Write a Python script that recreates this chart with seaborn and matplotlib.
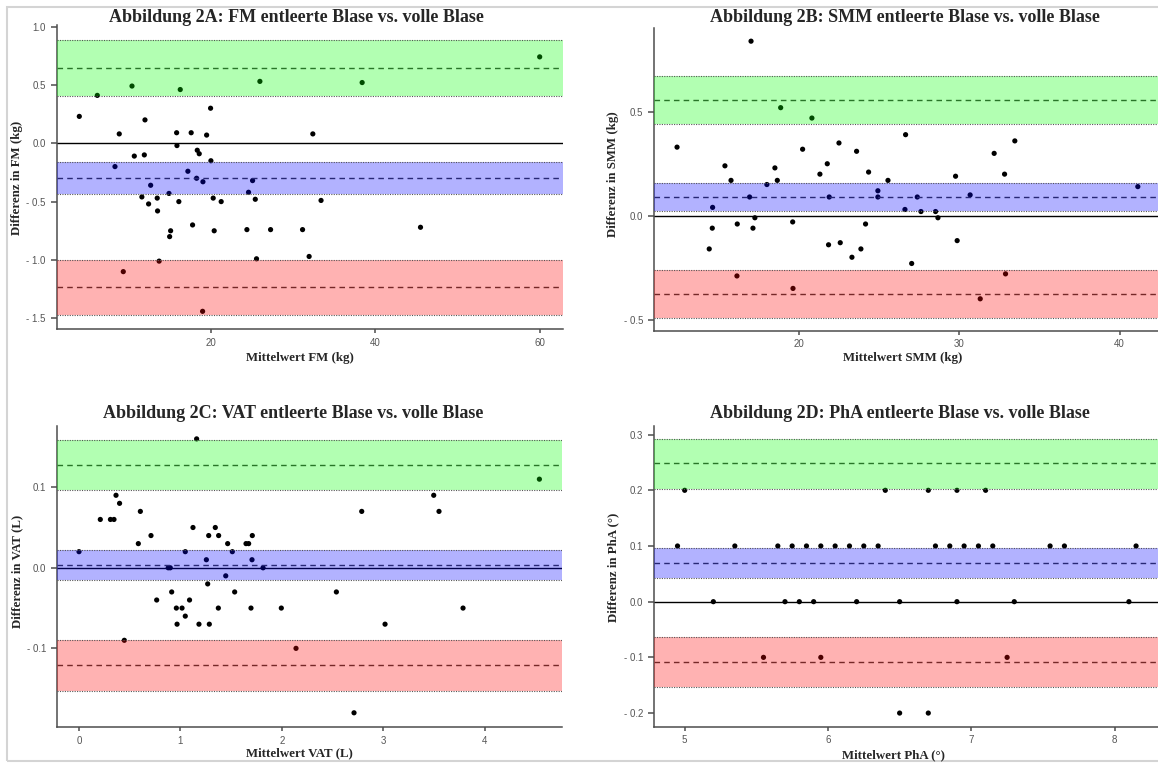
import numpy as np
import pandas as pd
import matplotlib
matplotlib.use("Agg")
import matplotlib.pyplot as plt
import seaborn as sns
from matplotlib.ticker import FuncFormatter, FixedLocator
from matplotlib.patches import Rectangle

# ---------------- Fettmasse (FM) ----------------
fm_mean = [3.99, 6.18, 10.4, 16.27, 25.96, 8.85, 11.98, 19.96, 15.83, 17.6,
           19.48, 15.87, 10.68, 11.9, 18.34, 18.58, 20.0, 8.33, 17.2, 18.26,
           19.03, 12.67, 25.07, 24.58, 14.9, 11.6, 13.47, 12.42, 16.1, 20.28,
           21.25, 25.4, 13.51, 17.77, 15.1, 14.98, 20.4, 24.38, 27.26, 25.55,
           13.7, 9.34, 18.99, 60.0, 38.4, 32.4, 33.4, 31.15, 45.5, 31.95]
fm_diff = [0.23, 0.41, 0.49, 0.46, 0.53, 0.08, 0.20, 0.30, 0.09, 0.09,
           0.07, -0.02, -0.11, -0.10, -0.06, -0.09, -0.15, -0.20, -0.24, -0.30,
           -0.33, -0.36, -0.32, -0.42, -0.43, -0.46, -0.47, -0.52, -0.50, -0.47,
           -0.50, -0.48, -0.58, -0.70, -0.75, -0.80, -0.75, -0.74, -0.74, -0.99,
           -1.01, -1.10, -1.44, 0.74, 0.52, 0.08, -0.49, -0.74, -0.72, -0.97]
# (untere KI-Grenze, Schätzer, obere KI-Grenze)
fm_bias = [-0.437, -0.297, -0.158]
fm_loa_upper = [0.408, 0.648, 0.885]
fm_loa_lower = [-1.471, -1.234, -1.0]

# ---------------- Skelettmuskelmasse (SMM) ----------------
smm_mean = [16.99, 18.84, 20.79, 12.37, 20.21, 22.48, 23.58, 15.36, 18.48, 21.75,
            15.74, 18.63, 21.29, 24.33, 17.98, 16.9, 21.87, 14.59, 24.91, 24.91,
            16.13, 17.23, 17.11, 14.57, 19.59, 24.14, 14.38, 21.83, 22.56, 23.85,
            23.29, 16.11, 19.61, 26.64, 32.17, 33.46, 32.82, 29.76, 25.54, 27.37,
            30.67, 41.14, 26.6, 27.6, 28.51, 28.66, 29.86, 27.02, 32.88, 31.3]
smm_diff = [0.84, 0.52, 0.47, 0.33, 0.32, 0.35, 0.31, 0.24, 0.23, 0.25,
            0.17, 0.17, 0.20, 0.21, 0.15, 0.09, 0.09, 0.04, 0.12, 0.09,
            -0.04, -0.01, -0.06, -0.06, -0.03, -0.04, -0.16, -0.14, -0.13, -0.16,
            -0.20, -0.29, -0.35, 0.39, 0.30, 0.36, 0.20, 0.19, 0.17, 0.09,
            0.10, 0.14, 0.03, 0.02, 0.02, -0.01, -0.12, -0.23, -0.28, -0.40]
smm_bias = [0.021, 0.090, 0.157]
smm_loa_upper = [0.44, 0.559, 0.673]
smm_loa_lower = [-0.494, -0.378, -0.26]

# ---------------- Viszerales Fett (VAT) ----------------
vat_mean = [1.16, 0.0, 0.21, 0.31, 0.345, 0.365, 0.40, 0.605, 0.585, 0.71,
            0.447, 0.766, 0.88, 0.90, 0.914, 0.96, 1.016, 0.967, 1.048, 1.09,
            1.048, 1.124, 1.183, 1.256, 1.269, 1.279, 1.285, 1.344, 1.377, 1.374,
            1.447, 1.466, 1.512, 1.535, 1.647, 1.673, 1.696, 1.709, 1.706, 1.815,
            1.995, 2.14, 4.54, 3.498, 2.788, 3.55, 2.538, 3.787, 3.018, 2.712]
vat_diff = [0.16, 0.02, 0.06, 0.06, 0.06, 0.09, 0.08, 0.07, 0.03, 0.04,
            -0.09, -0.04, 0.0, 0.0, -0.03, -0.05, -0.05, -0.07, -0.06, -0.04,
            0.02, 0.05, -0.07, 0.01, -0.02, 0.04, -0.07, 0.05, 0.04, -0.05,
            -0.01, 0.03, 0.02, -0.03, 0.03, 0.03, -0.05, 0.04, 0.01, 0.0,
            -0.05, -0.10, 0.11, 0.09, 0.07, 0.07, -0.03, -0.05, -0.07, -0.18]
vat_bias = [-0.0153, 0.0033, 0.0215]
vat_loa_upper = [0.096, 0.128, 0.159]
vat_loa_lower = [-0.153, -0.121, -0.0898]

# ---------------- Phasenwinkel (PhA) ----------------
pha_mean = [5.0, 6.40, 6.70, 6.90, 7.10,
            4.95, 5.35, 5.65, 5.75, 5.85, 5.95, 6.05, 6.15, 6.25, 6.35,
            6.75, 6.85, 6.95, 7.05, 7.15, 7.55, 7.65, 8.15,
            5.2, 5.7, 5.8, 5.9, 6.2, 6.5, 6.9, 7.3, 8.1,
            5.55, 5.95, 7.25,
            6.5, 6.7]
pha_diff = [0.2, 0.2, 0.2, 0.2, 0.2,
            0.1, 0.1, 0.1, 0.1, 0.1, 0.1, 0.1, 0.1, 0.1, 0.1,
            0.1, 0.1, 0.1, 0.1, 0.1, 0.1, 0.1, 0.1,
            0.0, 0.0, 0.0, 0.0, 0.0, 0.0, 0.0, 0.0, 0.0,
            -0.1, -0.1, -0.1,
            -0.2, -0.2]
pha_bias = [0.043, 0.070, 0.096]
pha_loa_upper = [0.203, 0.249, 0.292]
pha_loa_lower = [-0.153, -0.108, -0.0634]

titles = ["Abbildung 2A: FM entleerte Blase vs. volle Blase",
          "Abbildung 2B: SMM entleerte Blase vs. volle Blase",
          "Abbildung 2C: VAT entleerte Blase vs. volle Blase",
          "Abbildung 2D: PhA entleerte Blase vs. volle Blase"]
xlabels = ["Mittelwert FM (kg)", "Mittelwert SMM (kg)",
           "Mittelwert VAT (L)", "Mittelwert PhA (°)"]
ylabels = ["Differenz in FM (kg)", "Differenz in SMM (kg)",
           "Differenz in VAT (L)", "Differenz in PhA (°)"]

sns.set_theme(style="white")
plt.rcParams['font.family'] = ['Liberation Sans', 'DejaVu Sans']

W, H = 1158, 763
fig = plt.figure(figsize=(W / 100, H / 100), dpi=100)


def fx(x):
    return x / W


def fy(y):
    return 1 - y / H


def add_px_axes(l, t, r, b):
    return fig.add_axes([fx(l), fy(b), (r - l) / W, (b - t) / H])


def tick_fmt(v, pos):
    s = f"{abs(v):.1f}"
    return f"- {s}" if v < -1e-9 else s


panels = [
    dict(x=fm_mean, y=fm_diff, bands=(fm_loa_upper, fm_bias, fm_loa_lower),
         box=(56.7, 25, 562.7, 329.3), xlim=(1.24, 62.8), ylim=(-1.594, 1.013),
         xticks=[20, 40, 60], yticks=[1.0, 0.5, 0.0, -0.5, -1.0, -1.5],
         title_xy=(296, 17), xlabel_xy=(300, 358), ylabel_xy=(17, 178)),
    dict(x=smm_mean, y=smm_diff, bands=(smm_loa_upper, smm_bias, smm_loa_lower),
         box=(654.3, 28.3, 1158, 331), xlim=(10.95, 42.4), ylim=(-0.555, 0.902),
         xticks=[20, 30, 40], yticks=[0.5, 0.0, -0.5],
         title_xy=(904.5, 17), xlabel_xy=(903, 358), ylabel_xy=(613, 174)),
    dict(x=vat_mean, y=vat_diff, bands=(vat_loa_upper, vat_bias, vat_loa_lower),
         box=(57.3, 426, 561.7, 727.3), xlim=(-0.214, 4.76), ylim=(-0.198, 0.176),
         xticks=[0, 1, 2, 3, 4], yticks=[0.1, 0.0, -0.1],
         title_xy=(293.3, 413), xlabel_xy=(299, 753), ylabel_xy=(17, 571)),
    dict(x=pha_mean, y=pha_diff, bands=(pha_loa_upper, pha_bias, pha_loa_lower),
         box=(654.3, 425.7, 1158, 726.7), xlim=(4.788, 8.303), ylim=(-0.2245, 0.316),
         xticks=[5, 6, 7, 8], yticks=[0.3, 0.2, 0.1, 0.0, -0.1, -0.2],
         title_xy=(900, 413), xlabel_xy=(893, 755), ylabel_xy=(613, 567)),
]

band_colors = ["#00ff00", "#0000ff", "#ff0000"]
serif = ['Liberation Serif', 'DejaVu Serif']

for i, p in enumerate(panels):
    ax = add_px_axes(*p["box"])
    df = pd.DataFrame({"mittel": p["x"], "diff": p["y"]})

    # Nulllinie und Messpunkte liegen unter den halbtransparenten Bändern
    ax.axhline(0, color="black", lw=1.0, zorder=1)
    sns.scatterplot(data=df, x="mittel", y="diff", ax=ax, color="black",
                    s=14, edgecolor="none", linewidth=0, zorder=2, legend=False)

    for (lo_hi, col) in zip(p["bands"], band_colors):
        lo, mid, hi = lo_hi[0], lo_hi[1], lo_hi[2]
        lo, hi = min(lo, hi), max(lo, hi)
        ax.axhline(mid, color="#3a3a3a", lw=1.0, ls=(0, (4, 3)), zorder=2)
        ax.axhspan(lo, hi, facecolor=col, alpha=0.3, lw=0, zorder=3)
        for edge in (lo, hi):
            ax.axhline(edge, color="#555555", lw=0.8, ls=(0, (1, 1.2)), zorder=4)

    ax.set_xlim(*p["xlim"])
    ax.set_ylim(*p["ylim"])
    ax.xaxis.set_major_locator(FixedLocator(p["xticks"]))
    ax.yaxis.set_major_locator(FixedLocator(p["yticks"]))
    ax.xaxis.set_major_formatter(FuncFormatter(lambda v, pos: f"{v:.0f}"))
    ax.yaxis.set_major_formatter(FuncFormatter(tick_fmt))
    ax.set_xlabel("")
    ax.set_ylabel("")

    for side in ("top", "right"):
        ax.spines[side].set_visible(False)
    for side in ("left", "bottom"):
        ax.spines[side].set_color("#4d4d4d")
        ax.spines[side].set_linewidth(1.1)
    ax.tick_params(axis="both", which="major", bottom=True, left=True,
                   direction="out", color="#4d4d4d", width=1.1,
                   labelsize=7, labelcolor="#555555")
    ax.tick_params(axis="y", length=4, pad=4)
    ax.tick_params(axis="x", length=3, pad=3)
    ax.set_facecolor("white")

    tx, ty = p["title_xy"]
    fig.text(fx(tx), fy(ty), titles[i], ha="center", va="center",
             family=serif, fontweight="bold", fontsize=13)
    lx, ly = p["xlabel_xy"]
    fig.text(fx(lx), fy(ly), xlabels[i], ha="center", va="center",
             family=serif, fontweight="bold", fontsize=9.3)
    yx, yy = p["ylabel_xy"]
    fig.text(fx(yx), fy(yy), ylabels[i], ha="center", va="center",
             rotation=90, family=serif, fontweight="bold", fontsize=9.3)

# heller Rahmen um die Gesamtabbildung
fig.patches.append(Rectangle((fx(7), fy(761)), 1.0, (761 - 7) / H,
                             transform=fig.transFigure, fill=False,
                             edgecolor="#d4d4d4", lw=1.5, zorder=0))

fig.savefig("out.png", dpi=100, facecolor="white")
